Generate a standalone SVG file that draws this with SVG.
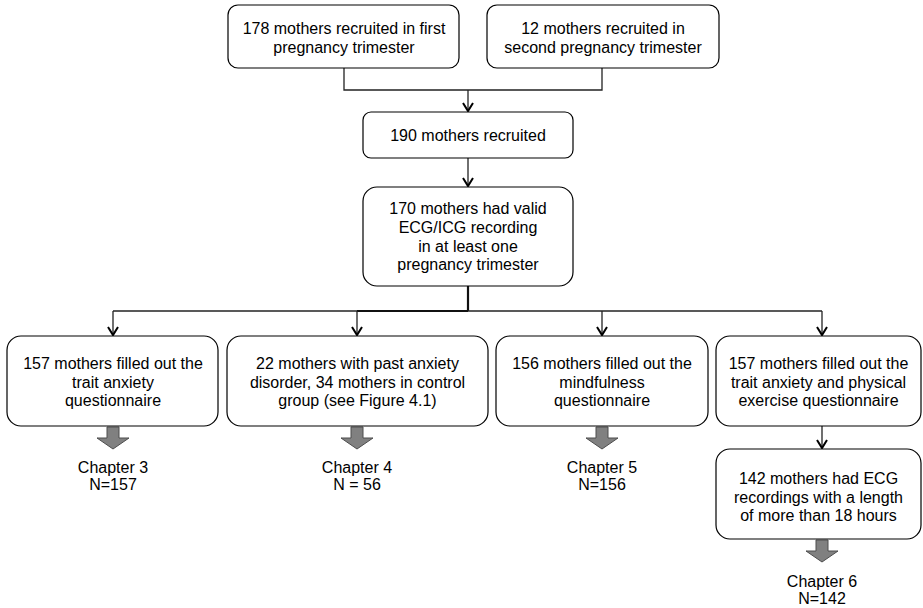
<svg xmlns="http://www.w3.org/2000/svg" width="923" height="608" viewBox="0 0 923 608">
<defs>
<style>
.box{fill:#fff;stroke:#000;stroke-width:1.2}
.t{font-family:"Liberation Sans",Arial,sans-serif;font-size:16px;fill:#000;text-anchor:middle}
.ln{fill:none;stroke:#222;stroke-width:1.3}
.trunk{fill:none;stroke:#111;stroke-width:2.2}
.blk{fill:#808080;stroke:#4d4d4d;stroke-width:1}
</style>
<marker id="ah" markerUnits="userSpaceOnUse" markerWidth="14" markerHeight="14" refX="11" refY="7" orient="auto" viewBox="0 0 14 14">
<path d="M3,2 L11,7 L3,12" fill="none" stroke="#000" stroke-width="2"/>
</marker>
</defs>
<rect width="923" height="608" fill="#fff"/>
<g id="connectors">
<path class="ln" d="M344,68 V90 H602 V68"/>
<path class="ln" d="M468,90 V111" marker-end="url(#ah)"/>
<path class="ln" d="M468,158 V186" marker-end="url(#ah)"/>
<path class="trunk" d="M468,286 V311"/>
<path class="ln" d="M113,311 H822"/>
<path class="trunk" d="M357,311 H468"/>
<path class="ln" d="M113,311 V335" marker-end="url(#ah)"/>
<path class="ln" d="M357,311 V335" marker-end="url(#ah)"/>
<path class="ln" d="M602,311 V335" marker-end="url(#ah)"/>
<path class="ln" d="M822,311 V335" marker-end="url(#ah)"/>
<path class="ln" d="M822,426 V448" marker-end="url(#ah)"/>
<path class="blk" d="M107,427 H119 V438 H129 L113,449 L97,438 H107 Z"/>
<path class="blk" d="M351,427 H363 V438 H373 L357,449 L341,438 H351 Z"/>
<path class="blk" d="M596,427 H608 V438 H618 L602,449 L586,438 H596 Z"/>
<path class="blk" d="M816,540 H828 V551 H838 L822,562 L806,551 H816 Z"/>
</g>
<g id="n1">
<rect class="box" x="228" y="5" width="231" height="63" rx="10"/>
<text class="t" x="344" y="34">178 mothers recruited in first</text>
<text class="t" x="344" y="53">pregnancy trimester</text>
</g>
<g id="n2">
<rect class="box" x="487" y="5" width="232" height="63" rx="10"/>
<text class="t" x="603" y="34">12 mothers recruited in</text>
<text class="t" x="603" y="53">second pregnancy trimester</text>
</g>
<g id="n3">
<rect class="box" x="363" y="112" width="210" height="46" rx="8"/>
<text class="t" x="468" y="141">190 mothers recruited</text>
</g>
<g id="n4">
<rect class="box" x="363" y="187" width="210" height="99" rx="14"/>
<text class="t" x="468" y="214">170 mothers had valid</text>
<text class="t" x="468" y="233">ECG/ICG recording</text>
<text class="t" x="468" y="251.5">in at least one</text>
<text class="t" x="468" y="270">pregnancy trimester</text>
</g>
<g id="n5">
<rect class="box" x="7" y="336" width="211" height="90" rx="14"/>
<text class="t" x="113" y="369">157 mothers filled out the</text>
<text class="t" x="113" y="387.5">trait anxiety</text>
<text class="t" x="113" y="406">questionnaire</text>
</g>
<g id="n6">
<rect class="box" x="227" y="336" width="261" height="90" rx="14"/>
<text class="t" x="357.5" y="369">22 mothers with past anxiety</text>
<text class="t" x="357.5" y="387.5">disorder, 34 mothers in control</text>
<text class="t" x="357.5" y="406">group (see Figure 4.1)</text>
</g>
<g id="n7">
<rect class="box" x="496" y="336" width="212" height="90" rx="14"/>
<text class="t" x="602" y="369">156 mothers filled out the</text>
<text class="t" x="602" y="387.5">mindfulness</text>
<text class="t" x="602" y="406">questionnaire</text>
</g>
<g id="n8">
<rect class="box" x="716" y="336" width="205" height="90" rx="14"/>
<text class="t" x="818.5" y="369">157 mothers filled out the</text>
<text class="t" x="818.5" y="387.5">trait anxiety and physical</text>
<text class="t" x="818.5" y="406">exercise questionnaire</text>
</g>
<g id="n9">
<rect class="box" x="716" y="449" width="205" height="90" rx="14"/>
<text class="t" x="818.5" y="484">142 mothers had ECG</text>
<text class="t" x="818.5" y="502.5">recordings with a length</text>
<text class="t" x="818.5" y="521">of more than 18 hours</text>
</g>
<g id="c3">
<text class="t" x="113" y="473">Chapter 3</text>
<text class="t" x="113" y="490">N=157</text>
</g>
<g id="c4">
<text class="t" x="357" y="473">Chapter 4</text>
<text class="t" x="357" y="490">N = 56</text>
</g>
<g id="c5">
<text class="t" x="602" y="473">Chapter 5</text>
<text class="t" x="602" y="490">N=156</text>
</g>
<g id="c6">
<text class="t" x="822" y="587">Chapter 6</text>
<text class="t" x="822" y="604">N=142</text>
</g>
</svg>
